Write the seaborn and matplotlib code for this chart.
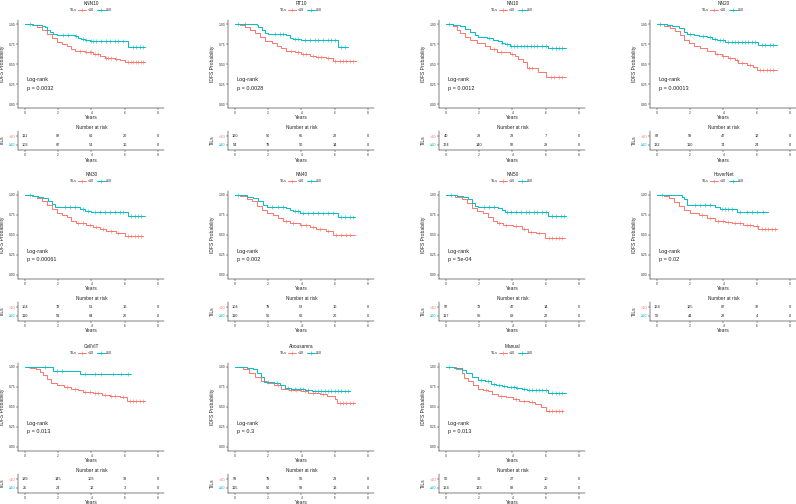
import numpy as np
import pandas as pd
import matplotlib
matplotlib.use('Agg')
import matplotlib.pyplot as plt
import seaborn as sns
from matplotlib.lines import Line2D

# panel order, p-values and risk table counts at years 0, 2, 4, 6, 8
titles = ['KNN10', 'RT10', 'NN10', 'NN20', 'NN30', 'NN40', 'NN50', 'HoverNet',
          'CellViT', 'Abousamra', 'Manual']
pvalues = ['0.0032', '0.0028', '0.0012', '0.00013', '0.00061', '0.002', '5e-04',
           '0.02', '0.013', '0.3', '0.013']
risk_years = [0, 2, 4, 6, 8]
risk_low = [[111, 82, 61, 20, 0], [120, 90, 65, 22, 0], [40, 29, 23, 7, 0],
            [82, 59, 47, 12, 0], [104, 78, 51, 16, 0], [104, 79, 53, 16, 0],
            [97, 73, 47, 14, 0], [164, 125, 87, 32, 0], [189, 145, 103, 33, 0],
            [99, 79, 56, 23, 0], [50, 36, 27, 10, 0]]
risk_high = [[103, 87, 54, 16, 0], [94, 79, 50, 14, 0], [174, 140, 92, 29, 0],
             [132, 110, 74, 24, 0], [110, 91, 64, 20, 0], [110, 90, 62, 20, 0],
             [117, 96, 68, 22, 0], [50, 44, 28, 4, 0], [25, 24, 12, 3, 0],
             [115, 90, 59, 13, 0], [164, 133, 88, 26, 0]]

# Kaplan-Meier steps (time in years, survival after step), group TILs < 10
low_times = [
    [0, .4, .7, 1.0, 1.3, 1.6, 1.9, 2.2, 2.5, 2.8, 3.0, 3.6, 4.1, 4.5, 4.8, 5.4, 5.7, 6.0, 7.2],
    [0, .3, .6, .9, 1.2, 1.5, 1.8, 2.2, 2.5, 2.8, 3.1, 3.6, 4.0, 4.5, 4.9, 5.5, 5.9, 7.3],
    [0, .45, .65, .85, 1.15, 1.45, 1.85, 2.35, 2.65, 3.05, 3.85, 4.15, 4.35, 4.65, 4.85, 5.55, 6.05, 7.25],
    [0, .4, .8, 1.1, 1.4, 1.6, 1.9, 2.2, 2.6, 3.0, 3.5, 3.9, 4.3, 4.7, 4.9, 5.4, 5.8, 6.0, 7.2],
    [0, .4, .7, 1.0, 1.3, 1.6, 1.9, 2.2, 2.5, 2.8, 3.1, 3.7, 4.1, 4.5, 4.9, 5.5, 6.0, 7.1],
    [0, .3, .7, 1.0, 1.3, 1.6, 1.9, 2.3, 2.6, 2.9, 3.3, 3.9, 4.5, 4.9, 5.5, 5.9, 7.2],
    [0, .55, .95, 1.25, 1.55, 1.85, 2.25, 2.55, 2.85, 3.05, 3.45, 4.05, 4.55, 4.95, 5.45, 5.95, 7.15],
    [0, .4, .7, 1.0, 1.3, 1.6, 2.0, 2.5, 3.0, 3.5, 4.1, 4.5, 5.2, 5.8, 6.1, 7.2],
    [0, .3, .65, .9, 1.1, 1.35, 1.55, 1.9, 2.35, 2.8, 3.2, 3.5, 4.1, 4.65, 5.1, 5.7, 6.15, 7.2],
    [0, .5, .85, 1.2, 1.55, 1.9, 2.35, 2.8, 3.25, 3.95, 4.4, 5.1, 5.55, 6.0, 6.15, 7.2],
    [0, .6, .95, 1.1, 1.3, 1.65, 1.9, 2.25, 2.55, 2.8, 3.15, 3.6, 4.05, 4.4, 5.0, 5.35, 5.7, 6.0, 7.05],
]
low_surv = [
    [1, .99, .96, .93, .88, .83, .78, .75, .72, .69, .665, .645, .63, .60, .575, .565, .55, .525, .525],
    [1, .99, .96, .93, .89, .84, .79, .76, .73, .70, .665, .645, .63, .605, .585, .57, .54, .54],
    [1, .98, .93, .89, .84, .80, .76, .72, .69, .655, .62, .60, .56, .53, .45, .40, .335, .335],
    [1, .98, .95, .91, .86, .80, .76, .73, .70, .66, .63, .605, .58, .55, .51, .49, .46, .43, .43],
    [1, .99, .96, .93, .87, .82, .78, .75, .72, .67, .645, .62, .60, .575, .55, .525, .485, .485],
    [1, .99, .95, .92, .86, .81, .78, .75, .71, .68, .655, .63, .60, .57, .55, .50, .50],
    [1, .98, .95, .90, .84, .80, .77, .73, .68, .65, .63, .61, .575, .54, .52, .465, .465],
    [1, .99, .96, .91, .86, .81, .78, .75, .71, .675, .665, .65, .63, .61, .575, .575],
    [1, .99, .97, .94, .90, .85, .80, .78, .755, .73, .71, .69, .675, .655, .64, .625, .58, .58],
    [1, .97, .92, .87, .82, .80, .77, .73, .715, .70, .68, .66, .635, .595, .555, .555],
    [1, .98, .93, .86, .82, .78, .73, .71, .695, .66, .64, .62, .605, .58, .56, .535, .50, .445, .445],
]
low_cens = [
    [3.3, 3.7, 3.9, 4.0, 4.2, 4.4, 4.9, 5.0, 5.2, 5.5, 6.2, 6.4, 6.5, 6.7, 6.8, 7.0, 7.1],
    [3.4, 3.8, 4.1, 4.3, 4.7, 5.0, 5.2, 5.6, 6.0, 6.3, 6.5, 6.7, 6.9, 7.1],
    [2.9, 3.3, 4.0, 5.0, 5.2, 6.3, 6.5, 6.8, 7.0],
    [3.6, 4.0, 4.4, 4.8, 5.1, 5.6, 6.2, 6.4, 6.6, 6.8, 7.0],
    [3.2, 3.5, 3.9, 4.3, 4.7, 5.2, 5.6, 6.2, 6.4, 6.6, 6.8, 7.0],
    [3.1, 3.5, 4.0, 4.3, 4.7, 5.1, 5.6, 6.1, 6.4, 6.7, 6.9],
    [3.2, 3.6, 4.2, 4.7, 5.1, 5.6, 6.2, 6.4, 6.6, 6.8, 7.0],
    [2.7, 3.2, 3.7, 4.0, 4.3, 4.7, 5.0, 5.4, 5.6, 6.0, 6.3, 6.5, 6.7, 6.9, 7.1],
    [2.5, 3.0, 3.6, 3.9, 4.2, 4.4, 4.8, 5.2, 5.4, 5.9, 6.3, 6.5, 6.7, 6.9, 7.1],
    [2.6, 3.4, 3.7, 4.2, 4.7, 5.3, 6.3, 6.5, 6.7, 6.9, 7.1],
    [2.4, 3.3, 4.2, 4.7, 5.2, 6.2, 6.4, 6.6, 6.8, 7.0],
]

# group TILs >= 10
high_times = [
    [0, .5, 1.0, 1.2, 1.35, 1.5, 1.7, 1.9, 3.0, 3.2, 3.35, 3.6, 3.9, 4.5, 6.2, 7.25],
    [0, 1.3, 1.4, 1.6, 1.8, 2.0, 3.1, 3.3, 3.5, 4.0, 6.2, 6.8],
    [0, .45, .85, 1.15, 1.45, 1.75, 1.95, 2.45, 2.85, 3.15, 3.35, 3.55, 3.85, 6.15, 7.25],
    [0, .6, .9, 1.3, 1.6, 1.8, 2.2, 2.5, 3.0, 3.3, 3.6, 4.1, 6.1, 7.2],
    [0, .5, .8, 1.1, 1.4, 1.6, 1.8, 3.1, 3.3, 3.6, 4.0, 6.2, 7.2],
    [0, .7, 1.1, 1.4, 1.7, 1.9, 3.1, 3.3, 3.5, 3.9, 6.2, 7.2],
    [0, .65, 1.05, 1.35, 1.55, 1.75, 1.95, 3.15, 3.35, 3.55, 4.05, 6.15, 7.25],
    [0, 1.5, 1.6, 1.8, 3.5, 3.8, 4.8, 6.7],
    [0, 1.7, 3.3, 6.4],
    [0, .75, 1.1, 1.3, 1.55, 1.75, 2.35, 2.7, 3.0, 3.4, 4.2, 4.65, 6.9],
    [0, .5, .95, 1.2, 1.55, 1.9, 2.35, 2.7, 3.0, 3.4, 3.7, 4.2, 4.55, 4.9, 6.15, 7.2],
]
high_surv = [
    [1, .99, .98, .96, .93, .90, .88, .865, .855, .83, .81, .80, .79, .785, .715, .715],
    [1, .99, .96, .92, .89, .875, .86, .83, .81, .80, .71, .71],
    [1, .99, .97, .94, .90, .86, .84, .82, .80, .785, .765, .745, .73, .70, .70],
    [1, .99, .97, .95, .90, .87, .86, .845, .835, .81, .795, .78, .74, .74],
    [1, .99, .98, .96, .92, .89, .855, .85, .82, .80, .79, .735, .735],
    [1, .98, .96, .92, .87, .845, .84, .81, .795, .78, .725, .725],
    [1, .99, .97, .95, .90, .86, .845, .84, .81, .79, .785, .735, .735],
    [1, .97, .95, .88, .855, .83, .785, .785],
    [1, .955, .915, .915],
    [1, .99, .97, .93, .87, .81, .80, .78, .74, .72, .715, .695, .695],
    [1, .99, .96, .92, .88, .84, .82, .79, .78, .76, .75, .735, .725, .71, .675, .675],
]
high_cens = [
    [0.3, 2.3, 2.6, 3.05, 3.5, 3.7, 3.95, 4.1, 4.3, 4.6, 4.9, 5.1, 5.4, 5.6, 5.9, 6.5, 6.7, 6.9, 7.1],
    [0.2, 0.6, 2.4, 2.7, 2.9, 3.6, 3.8, 4.2, 4.5, 4.8, 5.0, 5.3, 5.6, 5.8, 6.0, 6.4, 6.6],
    [0.2, 2.6, 3.4, 3.7, 3.9, 4.1, 4.3, 4.5, 4.7, 4.9, 5.1, 5.3, 5.5, 5.8, 6.0, 6.4, 6.6, 6.8, 7.0],
    [0.2, 2.0, 2.8, 3.2, 3.5, 3.8, 4.0, 4.3, 4.5, 4.7, 4.9, 5.1, 5.3, 5.5, 5.7, 5.9, 6.3, 6.5, 6.8, 7.0],
    [0.3, 2.4, 2.7, 3.0, 3.5, 3.8, 4.2, 4.5, 4.8, 5.1, 5.4, 5.7, 5.9, 6.4, 6.6, 6.8, 7.0],
    [0.2, 2.2, 2.6, 2.9, 3.6, 3.8, 4.1, 4.4, 4.7, 5.0, 5.3, 5.6, 5.9, 6.4, 6.6, 6.9, 7.1],
    [0.3, 2.3, 2.6, 2.9, 3.7, 3.9, 4.2, 4.5, 4.8, 5.0, 5.3, 5.5, 5.8, 6.0, 6.4, 6.6, 6.9, 7.1],
    [0.3, 2.3, 2.6, 2.9, 3.2, 3.9, 4.1, 4.3, 4.5, 5.0, 5.4, 5.7, 6.0, 6.4],
    [1.2, 1.9, 2.2, 3.6, 4.2, 4.6, 5.3, 5.8, 6.2],
    [2.0, 2.5, 3.2, 3.6, 3.9, 4.1, 4.4, 4.8, 5.0, 5.2, 5.4, 5.6, 5.8, 6.0, 6.2, 6.4, 6.6, 6.8],
    [0.2, 2.1, 2.5, 2.9, 3.2, 3.5, 3.9, 4.1, 4.3, 4.7, 5.0, 5.2, 5.4, 5.6, 5.8, 6.0, 6.4, 6.6, 6.8, 7.0],
]

RED = '#F8766D'
TEAL = '#00BFC4'
W, H = 796, 504
col_x0 = [25, 235, 446, 657]   # pixel of year 0 per column
row_y0 = [0, 171, 343]        # pixel offset per row
PX_PER_YEAR = 16.6

sns.set_style('white')
plt.rcParams['font.family'] = ['Liberation Sans', 'DejaVu Sans']
plt.rcParams['text.color'] = '#222222'

fig = plt.figure(figsize=(W / 100, H / 100), dpi=100)


def px_axes(left, top, width, height):
    return fig.add_axes([left / W, 1 - (top + height) / H, width / W, height / H])


def style_axes(ax):
    for side in ['top', 'right']:
        ax.spines[side].set_visible(False)
    for side in ['left', 'bottom']:
        ax.spines[side].set_linewidth(0.35)
        ax.spines[side].set_color('black')
    ax.tick_params(axis='both', labelsize=2.4, length=1.4, width=0.35, pad=0.8,
                   colors='#333333', left=True, bottom=True)
    ax.grid(False)


def draw_curve(ax, t, s, cens, color):
    df = pd.DataFrame({'t': t, 's': s})
    sns.lineplot(data=df, x='t', y='s', drawstyle='steps-post', color=color,
                 linewidth=0.7, estimator=None, sort=False, legend=False, ax=ax)
    idx = np.searchsorted(t, cens, side='right') - 1
    sns.scatterplot(x=cens, y=np.array(s)[idx], marker='+', color=color, s=5,
                    linewidth=0.4, legend=False, ax=ax)


for i, title in enumerate(titles):
    r, c = divmod(i, 4)
    x0, y0 = col_x0[c], row_y0[r]
    left = x0 - 0.4 * PX_PER_YEAR
    width = 8.8 * PX_PER_YEAR

    # survival plot
    ax = px_axes(left, y0 + 20, width, 88)
    draw_curve(ax, low_times[i], low_surv[i], low_cens[i], RED)
    draw_curve(ax, high_times[i], high_surv[i], high_cens[i], TEAL)
    ax.set_xlim(-0.4, 8.4)
    ax.set_ylim(-0.05, 1.05)
    ax.set_xticks([0, 2, 4, 6, 8])
    ax.set_yticks([0, 0.25, 0.5, 0.75, 1.0])
    ax.set_yticklabels(['0.00', '0.25', '0.50', '0.75', '1.00'])
    style_axes(ax)
    ax.set_xlabel('Years', fontsize=3.6)
    ax.xaxis.set_label_coords(0.5, -7 / 88)
    ax.set_ylabel('IDFS Probability', fontsize=3.6)
    ax.yaxis.set_label_coords(-13.4 / width, 0.5)
    ax.text(0.5, 1 + 17 / 88, title, transform=ax.transAxes, ha='center',
            va='center', fontsize=3.4)
    ax.text(0.1, 0.30, 'Log-rank', fontsize=4, ha='left', va='center')
    ax.text(0.1, 0.19, f'p = {pvalues[i]}', fontsize=4, ha='left', va='center')

    handles = [Line2D([0], [0], color=RED, lw=0.7, marker='+', ms=2.5, mew=0.4),
               Line2D([0], [0], color=TEAL, lw=0.7, marker='+', ms=2.5, mew=0.4)]
    ax.legend(handles, ['<10', '\u226510'], ncol=2, loc='center left',
              bbox_to_anchor=(0.41, 1 + 10 / 88), frameon=False, fontsize=2.6,
              handlelength=2.2, handletextpad=0.4, columnspacing=0.8,
              borderpad=0, borderaxespad=0)
    ax.text(0.40, 1 + 10 / 88, 'TILs', transform=ax.transAxes, ha='right',
            va='center', fontsize=2.6)

    # risk table
    tab = px_axes(left, y0 + 131, width, 19)
    tab.set_xlim(-0.4, 8.4)
    tab.set_ylim(-0.556, 1.556)
    for yr, n_lo, n_hi in zip(risk_years, risk_low[i], risk_high[i]):
        tab.text(yr, 1, str(n_lo), ha='center', va='center', fontsize=2.8)
        tab.text(yr, 0, str(n_hi), ha='center', va='center', fontsize=2.8)
    tab.set_xticks([0, 2, 4, 6, 8])
    tab.set_yticks([0, 1])
    tab.set_yticklabels(['\u226510', '<10'])
    style_axes(tab)
    for lab, col in zip(tab.get_yticklabels(), [TEAL, RED]):
        lab.set_color(col)
        lab.set_fontsize(2.8)
    tab.set_xlabel('Years', fontsize=3.6)
    tab.xaxis.set_label_coords(0.5, -7.5 / 19)
    tab.set_ylabel('TILs', fontsize=3.6)
    tab.yaxis.set_label_coords(-13.4 / width, 0.5)
    tab.text(0.5, 1 + 4 / 19, 'Number at risk', transform=tab.transAxes,
             ha='center', va='center', fontsize=3.4)

fig.savefig('out.png', dpi=100, facecolor='white')
